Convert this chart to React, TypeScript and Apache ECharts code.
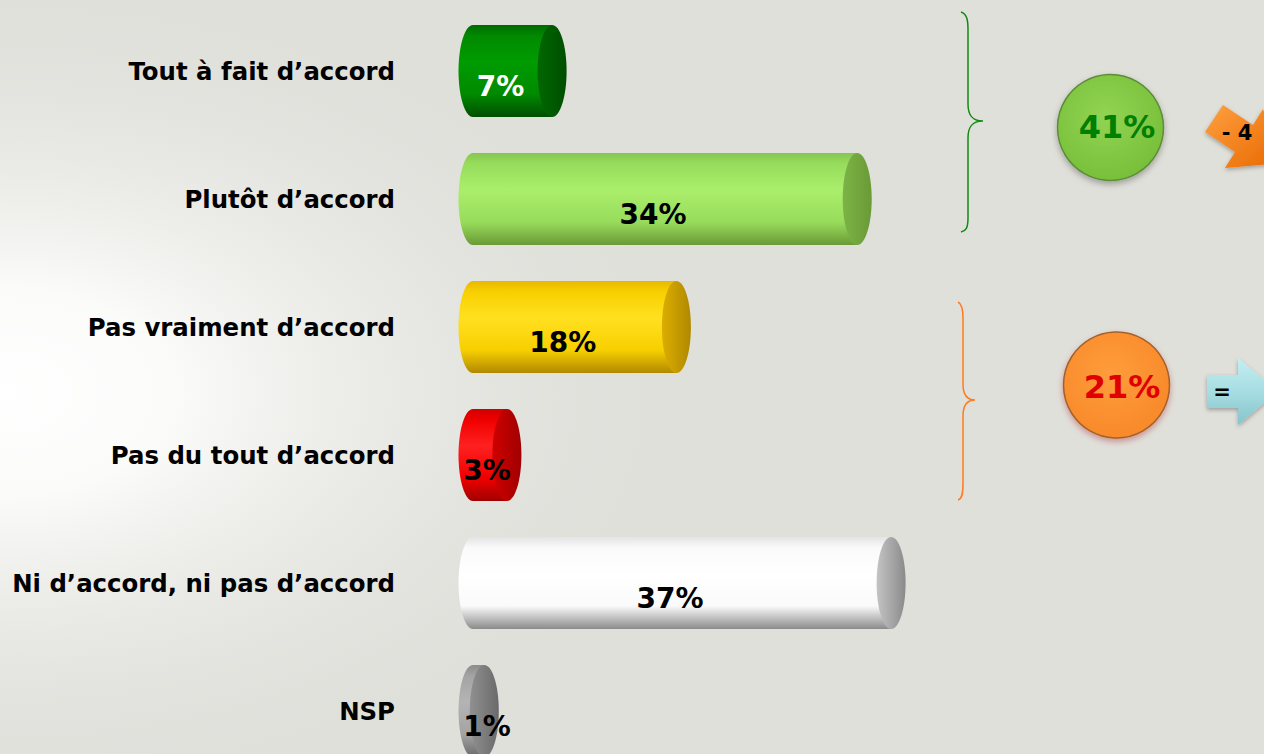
import React, { useEffect, useRef } from "react";
import * as echarts from "echarts";

const categories = [
  "Tout à fait d’accord",
  "Plutôt d’accord",
  "Pas vraiment d’accord",
  "Pas du tout d’accord",
  "Ni d’accord, ni pas d’accord",
  "NSP",
];
const values = [7, 34, 18, 3, 37, 1];
const groupTotals = ["41%", "21%"];
const changes = ["- 4", "="];

// [edge, mid, highlight, bottom, cap, label]
const palette = [
  ["#006a00", "#008a00", "#009c00", "#004e00", "#006800", "#ffffff"],
  ["#86c650", "#98dc5c", "#aaee6c", "#6a9a36", "#7cb446", "#000000"],
  ["#e8b800", "#f8d000", "#ffe020", "#b08800", "#dcae00", "#000000"],
  ["#d00000", "#f00000", "#ff2020", "#a00000", "#d00000", "#000000"],
  ["#e4e4e4", "#fafafa", "#ffffff", "#8a8a8a", "#c4c4c4", "#000000"],
  ["#8c8c8c", "#a4a4a4", "#b4b4b4", "#6a6a6a", "#909090", "#000000"],
];

const FONT = '"DejaVu Sans", Verdana, sans-serif';
const CHART_H = 790;

echarts.graphic.registerShape(
  "braceGreen",
  echarts.graphic.extendPath(
    "M961,12 C967,14 968,20 968,30 L968,104 C968,115 972,121 983,121 C972,121 968,127 968,138 L968,218 C968,228 966,231 961,232",
    {}
  )
);
echarts.graphic.registerShape(
  "braceOrange",
  echarts.graphic.extendPath(
    "M958,302 C962,304 963,310 963,318 L963,384 C963,395 967,400 975,400 C967,400 963,405 963,416 L963,484 C963,494 962,499 958,500",
    {}
  )
);

export default function App() {
  const ref = useRef<HTMLDivElement>(null);
  useEffect(() => {
    document.body.style.margin = "0";
    document.body.style.overflow = "hidden";
    document.documentElement.style.overflow = "hidden";
    const chart = echarts.init(ref.current!, undefined, { renderer: "svg" });
    const option: any = {
      animation: false,
      backgroundColor: "#e0e0db",
      grid: { left: 473, top: 7, width: 565, height: 768 },
      xAxis: { type: "value", min: 0, max: 50, show: false },
      yAxis: {
        type: "category",
        data: categories,
        inverse: true,
        axisLine: { show: false },
        axisTick: { show: false },
        splitLine: { show: false },
        axisLabel: {
          margin: 78,
          fontSize: 24.4,
          fontWeight: "bold",
          fontFamily: FONT,
          color: "#000",
        },
      },
      series: [
        {
          type: "custom",
          data: values.map((v, i) => [v, i]),
          encode: { x: 0, y: 1 },
          renderItem: (params: any, api: any) => {
            const v = api.value(0);
            const cat = api.value(1);
            const idx = params.dataIndex;
            const c = palette[idx];
            const s = api.coord([0, cat]);
            const e = api.coord([v, cat]);
            const band = api.size([0, 1])[1];
            const h = band * 0.72;
            const cy = s[1];
            const top = cy - h / 2;
            const rx = 14.5;
            const grad = new echarts.graphic.LinearGradient(0, 0, 0, 1, [
              { offset: 0, color: c[0] },
              { offset: 0.12, color: c[1] },
              { offset: 0.4, color: c[2] },
              { offset: 0.75, color: c[1] },
              { offset: 1, color: c[3] },
            ]);
            const capGrad = new echarts.graphic.LinearGradient(0, 0, 1, 0, [
              { offset: 0, color: c[4] },
              { offset: 1, color: c[3] },
            ]);
            const mid = (s[0] + e[0]) / 2;
            const lx = Math.max(mid - 12, s[0] + 14);
            return {
              type: "group",
              children: [
                {
                  type: "ellipse",
                  shape: { cx: s[0], cy, rx, ry: h / 2 },
                  style: { fill: grad },
                },
                {
                  type: "rect",
                  shape: { x: s[0], y: top, width: e[0] - s[0], height: h },
                  style: { fill: grad },
                },
                {
                  type: "ellipse",
                  shape: { cx: e[0], cy, rx, ry: h / 2 },
                  style: { fill: capGrad },
                },
                {
                  type: "text",
                  x: lx,
                  y: cy + 15,
                  style: {
                    text: v + "%",
                    font: "bold 28px " + FONT,
                    fill: c[5],
                    align: "center",
                    verticalAlign: "middle",
                  },
                },
              ],
            };
          },
        },
      ],
      graphic: [
        {
          type: "rect",
          z: -10,
          silent: true,
          shape: { x: 0, y: 0, width: 1264, height: 754 },
          style: {
            fill: {
              type: "radial",
              x: 0,
              y: 0.52,
              r: 0.55,
              colorStops: [
                { offset: 0, color: "#ffffff" },
                { offset: 0.25, color: "#fbfbfa" },
                { offset: 1, color: "rgba(224,224,219,0)" },
              ],
            },
          },
        },
        {
          type: "braceGreen",
          style: { stroke: "#108a10", fill: "none", lineWidth: 1.5 },
        },
        {
          type: "braceOrange",
          style: { stroke: "#ff7a20", fill: "none", lineWidth: 1.5 },
        },
        {
          type: "circle",
          shape: { cx: 1110.5, cy: 127.5, r: 53 },
          style: {
            fill: {
              type: "radial",
              x: 0.45,
              y: 0.4,
              r: 0.6,
              colorStops: [
                { offset: 0, color: "#92d454" },
                { offset: 1, color: "#78c03a" },
              ],
            },
            stroke: "#5e8c3a",
            lineWidth: 1.5,
            shadowBlur: 6,
            shadowOffsetY: 3,
            shadowColor: "rgba(0,0,0,0.3)",
          },
        },
        {
          type: "text",
          x: 1117,
          y: 127,
          style: {
            text: groupTotals[0],
            font: "bold 32px " + FONT,
            fill: "#008000",
            align: "center",
            verticalAlign: "middle",
            textAlign: "center",
            textVerticalAlign: "middle",
          },
        },
        {
          type: "circle",
          shape: { cx: 1116.5, cy: 385, r: 53 },
          style: {
            fill: {
              type: "radial",
              x: 0.45,
              y: 0.4,
              r: 0.6,
              colorStops: [
                { offset: 0, color: "#ff9c3c" },
                { offset: 1, color: "#f88a2a" },
              ],
            },
            stroke: "#a4602c",
            lineWidth: 1.5,
            shadowBlur: 6,
            shadowOffsetY: 3,
            shadowColor: "rgba(160,0,0,0.35)",
          },
        },
        {
          type: "text",
          x: 1122,
          y: 387,
          style: {
            text: groupTotals[1],
            font: "bold 32px " + FONT,
            fill: "#e00000",
            align: "center",
            verticalAlign: "middle",
            textAlign: "center",
            textVerticalAlign: "middle",
          },
        },
        {
          type: "polygon",
          shape: {
            points: [
              [1223, 105],
              [1253, 125],
              [1263, 109],
              [1281, 163],
              [1225, 168],
              [1235, 152],
              [1205, 132],
            ],
          },
          style: {
            fill: new echarts.graphic.LinearGradient(0, 0, 1, 1, [
              { offset: 0, color: "#ffa040" },
              { offset: 1, color: "#e86800" },
            ]),
            shadowBlur: 4,
            shadowOffsetY: 2,
            shadowColor: "rgba(0,0,0,0.3)",
          },
        },
        {
          type: "text",
          x: 1237,
          y: 133,
          style: {
            text: changes[0],
            font: "bold 21px " + FONT,
            fill: "#000",
            align: "center",
            verticalAlign: "middle",
            textAlign: "center",
            textVerticalAlign: "middle",
          },
        },
        {
          type: "polygon",
          shape: {
            points: [
              [1207, 375],
              [1238, 375],
              [1238, 358],
              [1278, 391],
              [1238, 425],
              [1238, 408],
              [1207, 408],
            ],
          },
          style: {
            fill: new echarts.graphic.LinearGradient(0, 0, 0, 1, [
              { offset: 0, color: "#c4eef2" },
              { offset: 0.5, color: "#a6dde2" },
              { offset: 1, color: "#86c4cc" },
            ]),
            shadowBlur: 4,
            shadowOffsetY: 2,
            shadowColor: "rgba(0,0,0,0.3)",
          },
        },
        {
          type: "text",
          x: 1222,
          y: 392,
          style: {
            text: changes[1],
            font: "bold 21px " + FONT,
            fill: "#000",
            align: "center",
            verticalAlign: "middle",
            textAlign: "center",
            textVerticalAlign: "middle",
          },
        },
      ],
    };
    chart.setOption(option);
    return () => chart.dispose();
  }, []);
  return <div ref={ref} style={{ width: 1264, height: CHART_H }} />;
}
